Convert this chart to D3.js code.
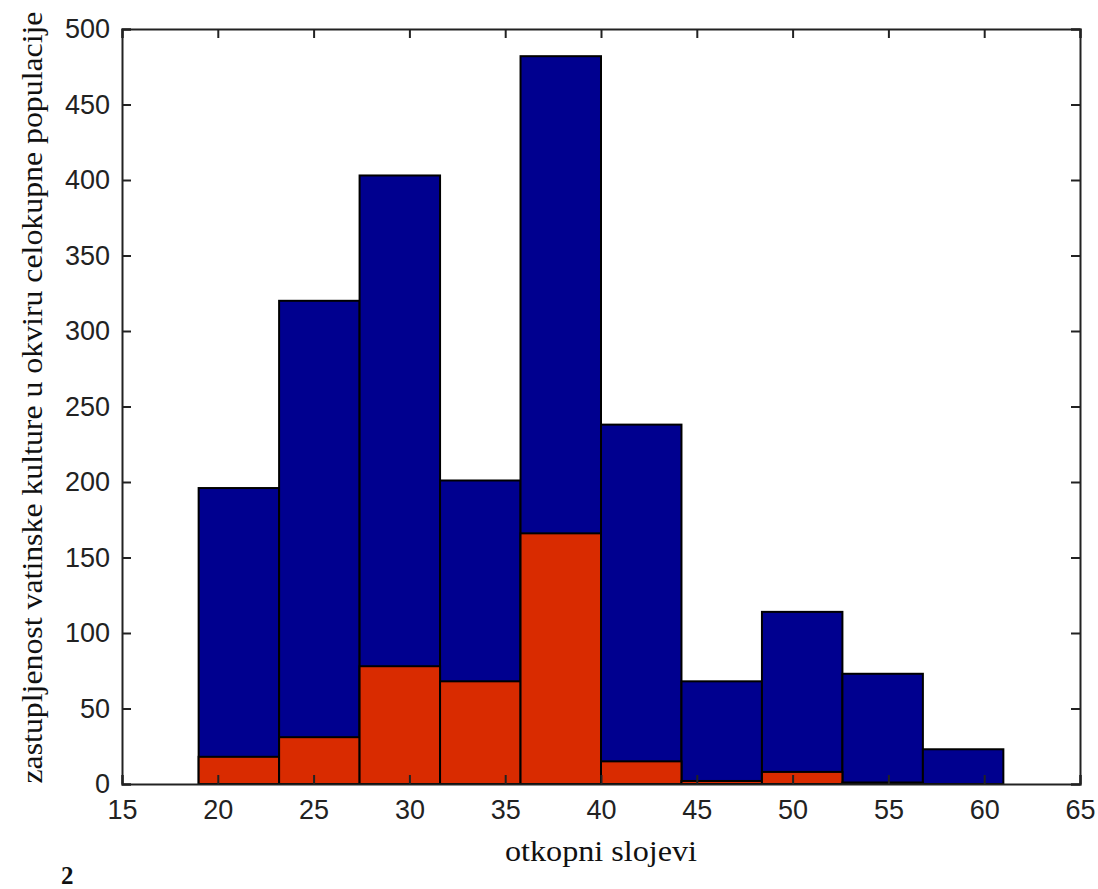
<!DOCTYPE html>
<html><head><meta charset="utf-8">
<script src="https://cdn.jsdelivr.net/npm/d3@7"></script>
<style>body{margin:0;background:#fff}</style>
</head><body>
<script>
const binEdges = [19, 23.2, 27.4, 31.6, 35.8, 40, 44.2, 48.4, 52.6, 56.8, 61];
const totalCounts = [196, 320, 403, 201, 482, 238, 68, 114, 73, 23];
const subsetCounts = [18, 31, 78, 68, 166, 15, 2, 8, 1, 0];
const xTicks = [15, 20, 25, 30, 35, 40, 45, 50, 55, 60, 65];
const yTicks = [0, 50, 100, 150, 200, 250, 300, 350, 400, 450, 500];
const xLabel = "otkopni slojevi";
const yLabel = "zastupljenost vatinske kulture u okviru celokupne populacije";
const figNote = "2";

const W = 1098, H = 889;
const m = {left: 122, right: 18, top: 29, bottom: 105};
const svg = d3.select("body").append("svg").attr("width", W).attr("height", H);
const x = d3.scaleLinear().domain([15, 65]).range([m.left, W - m.right]);
const y = d3.scaleLinear().domain([0, 500]).range([H - m.bottom, m.top]);

const bins = totalCounts.map((v, i) => ({x0: binEdges[i], x1: binEdges[i + 1], total: v, sub: subsetCounts[i]}));

svg.append("g").selectAll("rect").data(bins).join("rect")
  .attr("x", d => x(d.x0)).attr("width", d => x(d.x1) - x(d.x0))
  .attr("y", d => y(d.total)).attr("height", d => y(0) - y(d.total))
  .attr("fill", "#00008f").attr("stroke", "#000").attr("stroke-width", 2);

svg.append("g").selectAll("rect").data(bins.filter(d => d.sub > 0)).join("rect")
  .attr("x", d => x(d.x0)).attr("width", d => x(d.x1) - x(d.x0))
  .attr("y", d => y(d.sub)).attr("height", d => y(0) - y(d.sub))
  .attr("fill", "#d92b00").attr("stroke", "#000").attr("stroke-width", 2);

const tickFont = "'Liberation Sans', Arial, sans-serif";
const axB = svg.append("g").attr("transform", `translate(0,${y(0)})`)
  .call(d3.axisBottom(x).tickValues(xTicks).tickSize(-9).tickPadding(16).tickFormat(d3.format("d")));
const axT = svg.append("g").attr("transform", `translate(0,${y(500)})`)
  .call(d3.axisTop(x).tickValues(xTicks).tickSize(-9).tickFormat(""));
const axL = svg.append("g").attr("transform", `translate(${x(15)},0)`)
  .call(d3.axisLeft(y).tickValues(yTicks).tickSize(-9).tickPadding(12).tickFormat(d3.format("d")));
const axR = svg.append("g").attr("transform", `translate(${x(65)},0)`)
  .call(d3.axisRight(y).tickValues(yTicks).tickSize(-9).tickFormat(""));
[axB, axT, axL, axR].forEach(a => {
  a.select(".domain").attr("stroke", "#222").attr("stroke-width", 2);
  a.selectAll(".tick line").attr("stroke", "#222").attr("stroke-width", 2);
  a.selectAll("text").attr("font-family", tickFont).attr("font-size", 27).attr("fill", "#222");
});
axB.selectAll("text").attr("dy", "0.71em");

const serif = "'Liberation Serif', 'Times New Roman', serif";
svg.append("text").attr("x", (x(15) + x(65)) / 2).attr("y", 861)
  .attr("text-anchor", "middle").attr("font-family", serif)
  .attr("font-size", 29).attr("fill", "#111")
  .attr("textLength", 192).attr("lengthAdjust", "spacingAndGlyphs").text(xLabel);

svg.append("text").attr("transform", `translate(42,${(y(0) + y(500)) / 2 - 9}) rotate(-90)`)
  .attr("text-anchor", "middle").attr("font-family", serif)
  .attr("font-size", 30).attr("fill", "#111")
  .attr("textLength", 772).attr("lengthAdjust", "spacingAndGlyphs").text(yLabel);

svg.append("text").attr("x", 61).attr("y", 884)
  .attr("font-family", serif).attr("font-weight", "bold")
  .attr("font-size", 25).attr("fill", "#111").text(figNote);
</script>
</body></html>
